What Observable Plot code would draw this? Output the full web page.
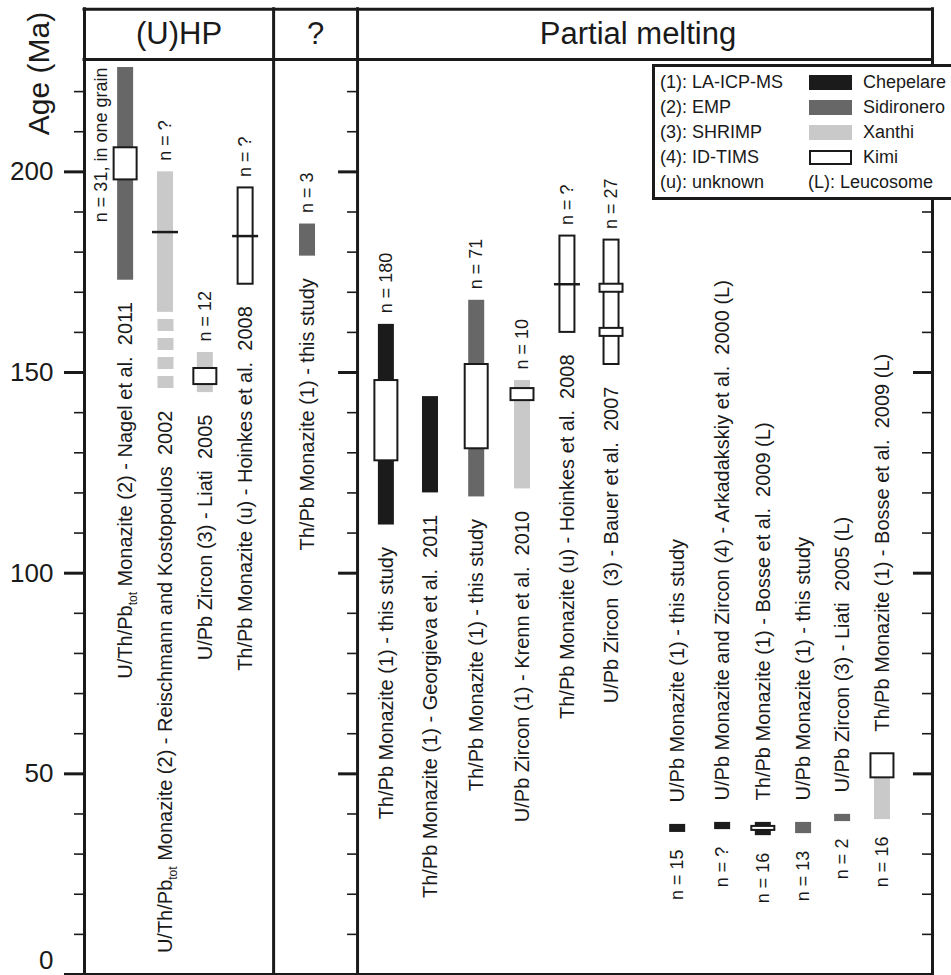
<!DOCTYPE html>
<html>
<head>
<meta charset="utf-8">
<script src="https://cdn.jsdelivr.net/npm/d3@7"></script>
<script src="https://cdn.jsdelivr.net/npm/@observablehq/plot@0.6"></script>
<style>
  body { margin: 0; background: #fff; }
  #wrap { position: relative; width: 951px; height: 975px; overflow: hidden;
          font-family: "Liberation Sans", Arial, Helvetica, sans-serif; color: #1a1a1a; }
  #wrap svg { position: absolute; left: 0; top: 0; }
  svg text { white-space: pre; }
  #legend { position: absolute; left: 652px; top: 64px; width: 330px; height: 130px;
            border: 3px solid #1a1a1a; background: #fff; font-size: 18px; }
  #legend span { position: absolute; line-height: 20px; white-space: pre; }
  #legend i { position: absolute; width: 43px; height: 15px; box-sizing: border-box; }
</style>
</head>
<body>
<div id="wrap"><div id="legend"></div></div>
<script>
// ---------------- data ----------------
const colLabels = [
  "U/Th/Pb_tot Monazite (2) - Nagel et al.  2011",
  "U/Th/Pb_tot Monazite (2) - Reischmann and Kostopoulos  2002",
  "U/Pb Zircon (3) - Liati  2005",
  "Th/Pb Monazite (u) - Hoinkes et al.  2008",
  "Th/Pb Monazite (1) - this study",
  "Th/Pb Monazite (1) - this study",
  "Th/Pb Monazite (1) - Georgieva et al.  2011",
  "Th/Pb Monazite (1) - this study",
  "U/Pb Zircon (1) - Krenn et al.  2010",
  "Th/Pb Monazite (u) - Hoinkes et al.  2008",
  "U/Pb Zircon  (3) - Bauer et al.  2007",
  "U/Pb Monazite (1) - this study",
  "U/Pb Monazite and Zircon (4) - Arkadakskiy et al.  2000 (L)",
  "Th/Pb Monazite (1) - Bosse et al.  2009 (L)",
  "U/Pb Monazite (1) - this study",
  "U/Pb Zircon (3) - Liati  2005 (L)",
  "Th/Pb Monazite (1) - Bosse et al.  2009 (L)"
];
const nLabels = ["n = 31, in one grain", "n = ?", "n = 12", "n = ?", "n = 3", "n = 180", "",
  "n = 71", "n = 10", "n = ?", "n = 27", "n = 15", "n = ?", "n = 16", "n = 13", "n = 2", "n = 16"];
// horizontal slot of each column (in column units)
const slot = [0.97, 1.91, 2.85, 3.80, 5.26, 7.12, 8.16, 9.25, 10.33, 11.39, 12.43,
  13.99, 15.05, 16.01, 16.96, 17.88, 18.82];
const ageLo = [173, 165, 145, 172, 179, 112, 120, 119, 121, 160, 152, 35.4, 36.1, 34.6, 35.1, 38.1, 38.6];
const ageHi = [226, 200, 155, 196, 187, 162, 144, 168, 148, 184, 183, 37.4, 37.9, 37.9, 37.9, 39.9, 48.8];
const unit = ["Sidironero", "Xanthi", "Xanthi", "Kimi", "Sidironero", "Chepelare", "Chepelare",
  "Sidironero", "Xanthi", "Kimi", "Kimi", "Chepelare", "Chepelare", "Chepelare", "Sidironero",
  "Sidironero", "Xanthi"];
// uncertain (dashed) extension
const uncCol = [1];
const uncLo = [146];
const uncHi = [165];
// boxed sub-ranges
const peakCol = [0, 2, 5, 7, 8, 10, 10, 13, 16];
const peakLo = [198, 147, 128, 131, 143, 170, 159, 35.9, 49];
const peakHi = [206, 151, 148, 152, 146, 172, 161, 36.9, 55];
// single-age markers
const medCol = [1, 3, 9];
const medAge = [185, 184, 172];
// panels
const panelNames = ["(U)HP", "?", "Partial melting"];
const panelEdges = [0, 4.46, 6.44, 20];
// axis
const majorTicks = [0, 50, 100, 150, 200];
const minorTicks = [10, 20, 30, 40, 60, 70, 80, 90, 110, 120, 130, 140, 160, 170, 180, 190, 210, 220];
const unitNames = ["Chepelare", "Sidironero", "Xanthi", "Kimi"];
const methodNotes = ["(1): LA-ICP-MS", "(2): EMP", "(3): SHRIMP", "(4): ID-TIMS", "(u): unknown"];
const extraNote = "(L): Leucosome";

// ---------------- styles ----------------
const ink = "#1a1a1a";
const unitFills = ["#1b1b1b", "#676767", "#c9c9c9", "#ffffff"];
const yTop = 228, headerTop = 240.5;

// ---------------- build ----------------
const cols = slot.map((s, i) => ({i, slot: s, lo: ageLo[i], hi: ageHi[i], unit: unit[i], label: colLabels[i], n: nLabels[i]}));
const unc = uncCol.map((c, k) => ({slot: slot[c], lo: uncLo[k], hi: uncHi[k], unit: unit[c]}));
const peaks = peakCol.map((c, k) => ({slot: slot[c], lo: peakLo[k], hi: peakHi[k]}));
const meds = medCol.map((c, k) => ({slot: slot[c], age: medAge[k]}));
const bottomOf = i => Math.min(ageLo[i], ...uncLo.filter((_, k) => uncCol[k] === i), ...peakLo.filter((_, k) => peakCol[k] === i));
const topOf = i => Math.max(ageHi[i], ...peakHi.filter((_, k) => peakCol[k] === i));
const isRight = d => d.i >= 11;
const panels = panelNames.map((p, k) => ({name: p, x: (panelEdges[k] + panelEdges[k + 1]) / 2, dx: k === 2 ? -7 : 0}));

const tickSet = (vals, xpos, len, w) => Plot.ruleY(vals, {y: d => d, x1: xpos, x2: xpos, insetLeft: -len, stroke: ink, strokeWidth: w});

const chart = Plot.plot({
  width: 951, height: 975, margin: 0,
  x: {domain: [0, 20], range: [84, 932], axis: null},
  y: {domain: [0, yTop], range: [974, 59], axis: null},
  color: {domain: unitNames, range: unitFills},
  style: {fontFamily: "'Liberation Sans', Arial, Helvetica, sans-serif", background: "transparent", overflow: "visible"},
  marks: [
    // filled bars
    Plot.rect(cols.filter(d => d.unit !== "Kimi"), {x1: "slot", x2: "slot", y1: "lo", y2: "hi", fill: "unit", insetLeft: -8, insetRight: -8}),
    Plot.ruleX(unc, {x: "slot", y1: "lo", y2: "hi", stroke: "unit", strokeWidth: 16, strokeDasharray: "12,7"}),
    // Kimi (outlined) bars
    Plot.rect(cols.filter(d => d.unit === "Kimi"), {x1: "slot", x2: "slot", y1: "lo", y2: "hi", fill: "white", stroke: ink, strokeWidth: 2, insetLeft: -7.5, insetRight: -7.5}),
    // boxed sub-ranges
    Plot.rect(peaks, {x1: "slot", x2: "slot", y1: "lo", y2: "hi", fill: "white", stroke: ink, strokeWidth: 2, insetLeft: -11.5, insetRight: -11.5}),
    // markers
    Plot.ruleY(meds, {y: "age", x1: "slot", x2: "slot", insetLeft: -13, insetRight: -13, stroke: ink, strokeWidth: 2.5}),
    // ticks
    tickSet(minorTicks, panelEdges[0], 10, 1.6),
    tickSet(majorTicks, panelEdges[0], 20, 3),
    tickSet(minorTicks, panelEdges[2], 10, 1.6),
    tickSet(majorTicks, panelEdges[2], 19, 3),
    tickSet(minorTicks, panelEdges[3], 10, 1.6),
    tickSet(majorTicks, panelEdges[3], 19, 3),
    // frame
    Plot.ruleX(panelEdges, {x: d => d, y1: 0, y2: headerTop, stroke: ink, strokeWidth: 3, strokeLinecap: "square"}),
    Plot.ruleY([0, yTop, headerTop], {y: d => d, x1: panelEdges[0], x2: panelEdges[3], stroke: ink, strokeWidth: 3, strokeLinecap: "square"}),
    // tick labels
    Plot.text(majorTicks.filter(d => d > 0), {x: panelEdges[0], y: d => d, text: d => String(d), textAnchor: "end", dx: -31, fontSize: 26, fill: ink}),
    Plot.text(majorTicks.filter(d => d === 0), {x: panelEdges[0], y: d => d, text: d => String(d), textAnchor: "end", dx: -31, dy: -14, fontSize: 26, fill: ink}),
    Plot.text(["Age (Ma)"], {x: panelEdges[0], y: yTop, text: d => d, rotate: -90, dx: -45, dy: 14, fontSize: 30, fill: ink}),
    // header
    Plot.text(panels.filter(p => p.dx === 0), {x: "x", y: (yTop + headerTop) / 2, text: "name", fontSize: 31, fill: ink}),
    Plot.text(panels.filter(p => p.dx !== 0), {x: "x", y: (yTop + headerTop) / 2, text: "name", dx: -7, fontSize: 31, fill: ink}),
    // column labels
    Plot.text(cols.filter(d => !isRight(d)), {x: "slot", y: d => bottomOf(d.i), text: "label", rotate: -90, textAnchor: "end", dy: 22, fontSize: 20, fill: ink}),
    Plot.text(cols.filter(isRight), {x: "slot", y: d => topOf(d.i), text: "label", rotate: -90, textAnchor: "start", dy: -22, fontSize: 20, fill: ink}),
    // n labels
    Plot.text(cols.filter(d => d.i === 0), {x: "slot", y: "hi", text: "n", rotate: -90, textAnchor: "end", dx: -24, fontSize: 18, fill: ink}),
    Plot.text(cols.filter(d => d.i > 0 && !isRight(d) && d.n), {x: "slot", y: d => topOf(d.i), text: "n", rotate: -90, textAnchor: "start", dy: -11, fontSize: 18, fill: ink}),
    Plot.text(cols.filter(isRight), {x: "slot", y: d => bottomOf(d.i), text: "n", rotate: -90, textAnchor: "end", dy: 17, fontSize: 18, fill: ink})
  ]
});

// subscript "tot"
const NS = "http://www.w3.org/2000/svg";
chart.querySelectorAll("text").forEach(t => {
  const s = t.textContent;
  if (s.includes("_tot")) {
    const [a, b] = s.split("_tot");
    t.textContent = "";
    const t1 = document.createElementNS(NS, "tspan"); t1.textContent = a;
    const t2 = document.createElementNS(NS, "tspan"); t2.textContent = "tot";
    t2.setAttribute("font-size", "12"); t2.setAttribute("dy", "5");
    const t3 = document.createElementNS(NS, "tspan"); t3.textContent = b; t3.setAttribute("dy", "-5");
    t.append(t1, t2, t3);
  }
});

const wrap = document.getElementById("wrap");
wrap.insertBefore(chart, wrap.firstChild);

// legend
const lg = document.getElementById("legend");
const rowY = k => 15 + 25 * k;
methodNotes.forEach((m, k) => {
  const s = document.createElement("span");
  s.textContent = m; s.style.left = "5px"; s.style.top = (rowY(k) - 10) + "px";
  lg.appendChild(s);
});
unitNames.forEach((u, k) => {
  const sw = document.createElement("i");
  sw.style.left = "154px"; sw.style.top = (rowY(k) - 7.5) + "px";
  sw.style.background = unitFills[k];
  if (u === "Kimi") sw.style.border = "2px solid " + ink;
  lg.appendChild(sw);
  const s = document.createElement("span");
  s.textContent = u; s.style.left = "208px"; s.style.top = (rowY(k) - 10) + "px";
  lg.appendChild(s);
});
const ex = document.createElement("span");
ex.textContent = extraNote; ex.style.left = "153px"; ex.style.top = (rowY(4) - 10) + "px";
lg.appendChild(ex);
</script>
</body>
</html>
